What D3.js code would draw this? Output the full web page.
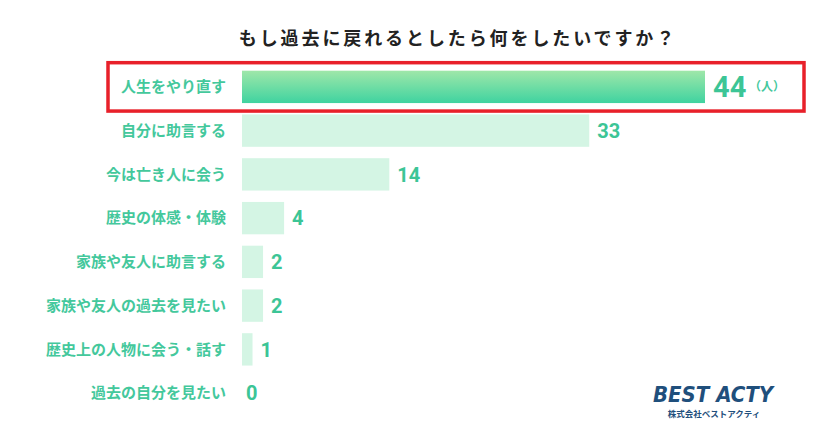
<!DOCTYPE html>
<html><head><meta charset="utf-8">
<script src="https://cdn.jsdelivr.net/npm/d3@7"></script>
<style>body{margin:0;background:#fff;}svg{display:block;font-family:"Noto Sans CJK JP","Noto Sans",sans-serif;}</style>
</head><body>
<svg id="c" width="829" height="439"></svg>
<script>
const title = "もし過去に戻れるとしたら何をしたいですか？";
const categories = ["人生をやり直す","自分に助言する","今は亡き人に会う","歴史の体感・体験","家族や友人に助言する","家族や友人の過去を見たい","歴史上の人物に会う・話す","過去の自分を見たい"];
const values = [44,33,14,4,2,2,1,0];
const unitLabel = "（人）";

const svg = d3.select("#c");
const x = d3.scaleLinear().domain([0,44]).range([242,705]);
const y = d3.scaleBand().domain(categories).range([65,415]).paddingInner(0.26).paddingOuter(0.13);

const defs = svg.append("defs");
const g = defs.append("linearGradient").attr("id","gr").attr("x1",0).attr("y1",0).attr("x2",0).attr("y2",1);
g.append("stop").attr("offset","0%").attr("stop-color","#9fe7a9");
g.append("stop").attr("offset","100%").attr("stop-color","#3fd3a0");

svg.append("text").attr("x",458).attr("y",45).attr("text-anchor","middle")
  .attr("font-size",18).attr("letter-spacing",2.9).attr("font-weight","bold").attr("fill","#222").text(title);

svg.selectAll("rect.bar").data(values).join("rect").attr("class","bar")
  .attr("x",x(0)).attr("y",(d,i)=>y(categories[i]))
  .attr("width",d=>x(d)-x(0)).attr("height",y.bandwidth())
  .attr("fill",(d,i)=>i===0?"url(#gr)":"#d4f5e4");

svg.selectAll("text.cat").data(categories).join("text").attr("class","cat")
  .attr("x",226).attr("y",d=>y(d)+y.bandwidth()/2).attr("dy","0.35em")
  .attr("text-anchor","end").attr("font-size",15).attr("font-weight","bold")
  .attr("fill","#44c89c").text(d=>d);

svg.selectAll("text.val").data(values).join("text").attr("class","val")
  .attr("x",d=>x(d)+(d===0?4:8)).attr("y",(d,i)=>y(categories[i])+y.bandwidth()/2).attr("dy","0.36em")
  .attr("font-size",(d,i)=>i===0?29:20).attr("font-weight","bold")
  .attr("fill","#3cc596").attr("font-family","Roboto,'Noto Sans',sans-serif").text(d=>d);

svg.append("text").attr("x",x(44)+44).attr("y",y(categories[0])+y.bandwidth()/2).attr("dy","0.35em")
  .attr("font-size",12).attr("font-weight","bold").attr("fill","#44c89c").text(unitLabel);

const b0 = y(categories[0]);
svg.append("rect").attr("x",108).attr("y",b0-8).attr("width",696).attr("height",y.bandwidth()+16)
  .attr("fill","none").attr("stroke","#e8202a").attr("stroke-width",3.5);

const logo = svg.append("g");
logo.append("text").attr("x",713).attr("y",402).attr("text-anchor","middle")
  .attr("font-size",22).attr("font-weight","bold").attr("font-style","italic")
  .attr("font-family","'Liberation Sans Narrow','DejaVu Sans Condensed',sans-serif")
  .attr("fill","#1f4f7c").text("BEST ACTY");
logo.append("text").attr("x",714).attr("y",417).attr("text-anchor","middle")
  .attr("font-size",8.5).attr("font-weight","bold").attr("fill","#1f4f7c").text("株式会社ベストアクティ");
</script>
</body></html>
